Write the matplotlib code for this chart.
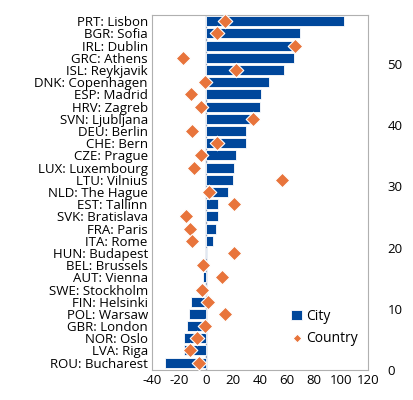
import matplotlib
matplotlib.use("Agg")
import matplotlib.pyplot as plt

plt.rcParams['font.family'] = ['Open Sans', 'DejaVu Sans']
plt.rcParams['axes.unicode_minus'] = False

labels = ["PRT: Lisbon", "BGR: Sofia", "IRL: Dublin", "GRC: Athens", "ISL: Reykjavik",
          "DNK: Copenhagen", "ESP: Madrid", "HRV: Zagreb", "SVN: Ljubljana", "DEU: Berlin",
          "CHE: Bern", "CZE: Prague", "LUX: Luxembourg", "LTU: Vilnius", "NLD: The Hague",
          "EST: Tallinn", "SVK: Bratislava", "FRA: Paris", "ITA: Rome", "HUN: Budapest",
          "BEL: Brussels", "AUT: Vienna", "SWE: Stockholm", "FIN: Helsinki", "POL: Warsaw",
          "GBR: London", "NOR: Oslo", "LVA: Riga", "ROU: Bucharest"]
city = [102, 70, 66, 65, 58, 47, 41, 40, 34, 30, 30, 22, 21, 20, 16,
        9, 9, 7.5, 5.5, 0.7, 0, -2, -2, -11, -12.5, -14, -16, -16.5, -30]
country = [14, 8, 66, -17, 22, -0.5, -11, -4, 35, -10, 8, -4, -9, 56, 2,
           21, -14.5, -12, -10.5, 21, -2, 12, -3, 1.5, 14, -1, -7, -12, -5]

blue = "#00479B"
orange = "#E8743B"

fig, ax = plt.subplots(figsize=(4.13, 4.0), dpi=100)
fig.subplots_adjust(left=0.368, right=0.891, top=0.962, bottom=0.075)

n = len(labels)
ypos = list(range(n - 1, -1, -1))
bars = ax.barh(ypos, city, height=0.82, color=blue, edgecolor="white", linewidth=0.6, label="City", zorder=2)
pts = ax.scatter(country, ypos, marker="D", s=55, color=orange, edgecolor="white", linewidth=0.8,
                 label="Country", zorder=3)
ax.axvline(0, color="#9aa8c0", linewidth=1, zorder=1)

ax.set_xlim(-40, 120)
ax.set_ylim(-0.6, n - 0.5)
ax.set_xticks(range(-40, 121, 20))
ax.set_yticks(ypos)
ax.set_yticklabels(labels)
ax.tick_params(axis="both", length=0, labelsize=9.5, pad=3)
for s in ax.spines.values():
    s.set_color("#b0b0b0")

ax2 = ax.twinx()
ax2.set_ylim(0, 58)
ax2.set_yticks(range(0, 51, 10))
ax2.tick_params(axis="y", length=0, labelsize=9.5, pad=14)
for s in ax2.spines.values():
    s.set_visible(False)

leg = ax2.legend([bars, pts], ["City", "Country"], loc="lower right", bbox_to_anchor=(1.0, 0.04),
                 frameon=False, fontsize=10, handlelength=0.8, handletextpad=0.3,
                 borderaxespad=0.3, markerscale=0.6)

fig.savefig("out.png")
